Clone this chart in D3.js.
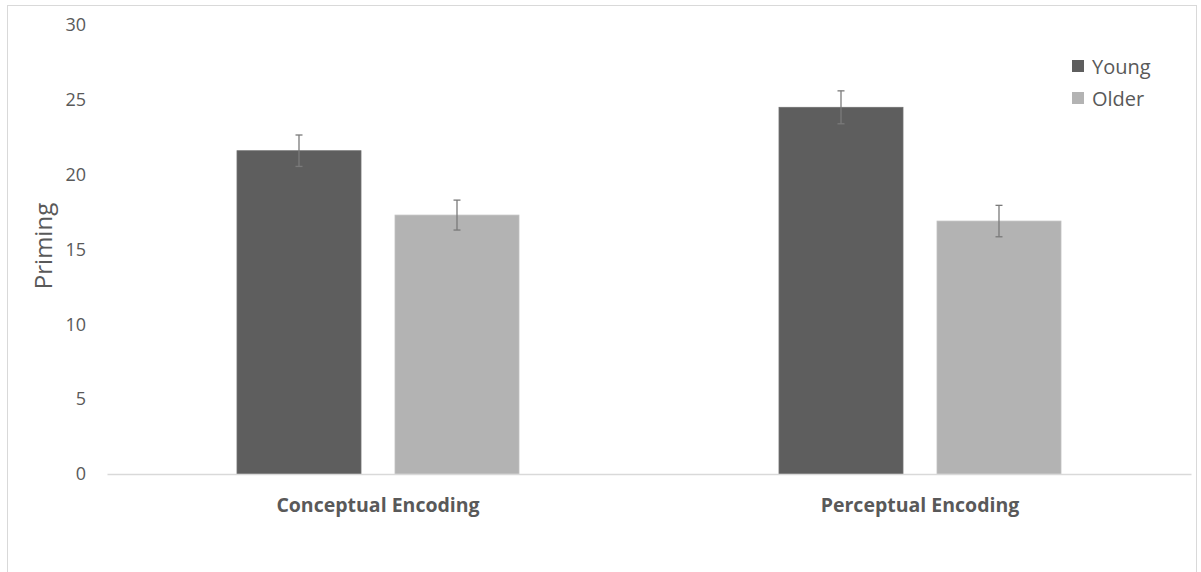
<!DOCTYPE html>
<html>
<head>
<meta charset="utf-8">
<script src="https://cdn.jsdelivr.net/npm/d3@7"></script>
<style>
  html, body { margin: 0; padding: 0; background: #fff; }
  svg { display: block; font-family: "Open Sans", sans-serif; }
</style>
</head>
<body>
<svg id="chart" width="1201" height="572"></svg>
<script>
// Priming scores by encoding condition and age group
const categories = ["Conceptual Encoding", "Perceptual Encoding"];
const groups = ["Young", "Older"];
const youngValues = [21.6, 24.5];
const olderValues = [17.3, 16.9];
const youngErrors = [1.05, 1.1];
const olderErrors = [1.0, 1.05];
const yTicks = [0, 5, 10, 15, 20, 25, 30];
const colors = { Young: "#5e5e5e", Older: "#b3b3b3" };

const svg = d3.select("#chart");
const margin = { left: 107, right: 1191, top: 25, bottom: 474 };

// outer chart frame
svg.append("rect")
  .attr("x", 7.5).attr("y", 5.5)
  .attr("width", 1189).attr("height", 620)
  .attr("fill", "#fff").attr("stroke", "#d9d9d9").attr("stroke-width", 1);

const y = d3.scaleLinear().domain([0, 30]).range([margin.bottom, margin.top]);
const x0 = d3.scaleBand().domain(categories).range([margin.left, margin.right]).paddingInner(0).paddingOuter(0);
// inner band: bars 124 wide with 34 gap inside a 542 step
const x1 = d3.scaleBand().domain(groups).range([130, 412]).paddingInner(34 / 158).paddingOuter(0);

// y tick labels (no axis line, no gridlines)
const yAxis = d3.axisLeft(y).tickValues(yTicks).tickSize(0).tickPadding(0).tickFormat(d3.format("d"));
const gy = svg.append("g").attr("transform", "translate(86,0)").call(yAxis);
gy.select(".domain").remove();
gy.selectAll("text")
  .attr("fill", "#595959")
  .style("font-size", "18px")
  .style("font-family", "'Open Sans', sans-serif");

// y axis title
svg.append("text")
  .attr("transform", "translate(52,246) rotate(-90)")
  .attr("text-anchor", "middle")
  .attr("fill", "#595959")
  .style("font-size", "24px")
  .text("Priming");

// data rows
const rows = categories.map((c, i) => ({
  category: c,
  values: [
    { group: "Young", value: youngValues[i], err: youngErrors[i] },
    { group: "Older", value: olderValues[i], err: olderErrors[i] }
  ]
}));

const gCat = svg.selectAll(".cat").data(rows).join("g")
  .attr("class", "cat")
  .attr("transform", d => `translate(${x0(d.category)},0)`);

gCat.selectAll("rect.bar").data(d => d.values).join("rect")
  .attr("class", "bar")
  .attr("x", d => x1(d.group))
  .attr("width", x1.bandwidth())
  .attr("y", d => y(d.value))
  .attr("height", d => y(0) - y(d.value))
  .attr("fill", d => colors[d.group])
  .attr("stroke", d => d.group === "Young" ? "#707070" : "#c0c0c0")
  .attr("stroke-width", 0.8);

// error bars
const eb = gCat.selectAll("g.err").data(d => d.values).join("g").attr("class", "err")
  .attr("stroke", "#7a7a7a").attr("stroke-width", 1.3);
eb.append("line")
  .attr("x1", d => x1(d.group) + x1.bandwidth() / 2)
  .attr("x2", d => x1(d.group) + x1.bandwidth() / 2)
  .attr("y1", d => y(d.value + d.err))
  .attr("y2", d => y(d.value - d.err));
eb.append("line")
  .attr("x1", d => x1(d.group) + x1.bandwidth() / 2 - 3.5)
  .attr("x2", d => x1(d.group) + x1.bandwidth() / 2 + 3.5)
  .attr("y1", d => y(d.value + d.err))
  .attr("y2", d => y(d.value + d.err));
eb.append("line")
  .attr("x1", d => x1(d.group) + x1.bandwidth() / 2 - 3.5)
  .attr("x2", d => x1(d.group) + x1.bandwidth() / 2 + 3.5)
  .attr("y1", d => y(d.value - d.err))
  .attr("y2", d => y(d.value - d.err));

// x axis baseline and category labels
const xAxis = d3.axisBottom(x0).tickSize(0).tickPadding(24);
const gx = svg.append("g").attr("transform", `translate(0,${y(0)})`).call(xAxis);
gx.select(".domain").attr("stroke", "#d9d9d9").attr("stroke-width", 1.3);
gx.selectAll("text")
  .attr("fill", "#595959")
  .style("font-size", "19.5px")
  .style("font-weight", "bold")
  .style("font-family", "'Open Sans', sans-serif");

// legend
const legend = svg.append("g").attr("transform", "translate(1072,60)");
groups.forEach((g, i) => {
  const row = legend.append("g").attr("transform", `translate(0,${i * 32})`);
  row.append("rect").attr("width", 12).attr("height", 12).attr("fill", colors[g]);
  row.append("text")
    .attr("x", 20).attr("y", 7).attr("dy", "0.35em")
    .attr("fill", "#595959")
    .style("font-size", "20px")
    .text(g);
});
</script>
</body>
</html>
